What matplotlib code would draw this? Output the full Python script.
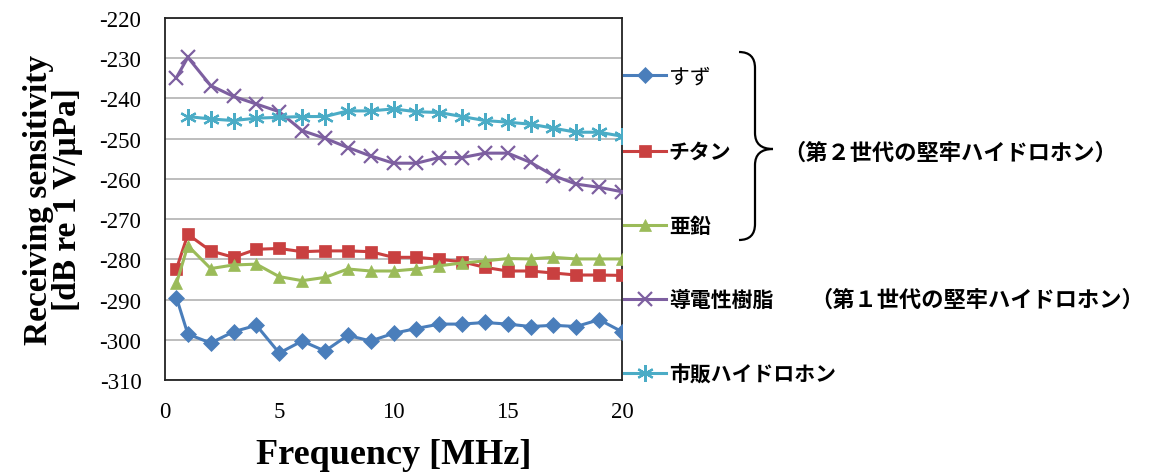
import numpy as np
import matplotlib
matplotlib.use("Agg")
import matplotlib.pyplot as plt
from matplotlib.path import Path
from matplotlib.patches import PathPatch

plt.rcParams["axes.unicode_minus"] = False

# Receiving sensitivity of the rugged hydrophones vs. frequency
freq = [0.5] + list(range(1, 21))
freq_commercial = list(range(1, 21))

tin = [-289.5, -298.6, -300.8, -298.0, -296.4, -303.3, -300.3, -302.8, -298.9, -300.3,
       -298.4, -297.2, -296.1, -296.1, -295.7, -296.1, -296.7, -296.4, -296.7, -295.0, -298.0]
titanium = [-282.4, -273.8, -277.9, -279.5, -277.5, -277.3, -278.1, -277.9, -277.9, -278.1,
            -279.5, -279.5, -280.0, -280.6, -282.0, -282.9, -282.9, -283.4, -283.9, -283.9, -284.0]
zinc = [-286.0, -276.6, -282.3, -281.4, -281.2, -284.3, -285.3, -284.5, -282.4, -282.9,
        -282.9, -282.4, -281.6, -280.9, -280.4, -279.8, -279.9, -279.5, -279.9, -279.9, -279.9]
resin = [-234.8, -229.8, -236.8, -239.5, -241.4, -243.3, -248.0, -249.9, -252.2, -254.3,
         -256.1, -256.1, -254.7, -254.7, -253.6, -253.6, -255.9, -259.2, -261.3, -262.1, -263.2]
commercial = [-244.5, -245.1, -245.5, -244.9, -244.7, -244.5, -244.5, -243.1, -243.1, -242.6,
              -243.3, -243.5, -244.5, -245.5, -245.9, -246.4, -247.4, -248.4, -248.4, -249.4]

labels = ["すず", "チタン", "亜鉛", "導電性樹脂", "市販ハイドロホン"]
gen2_note = "（第２世代の堅牢ハイドロホン）"
gen1_note = "（第１世代の堅牢ハイドロホン）"

W, H = 1157, 477
fig = plt.figure(figsize=(W / 100, H / 100), dpi=100)
ax = fig.add_axes([165 / W, 1 - 381 / H, (622 - 165) / W, (381 - 19) / H])

serif = "Liberation Serif"
jp = ["Noto Sans CJK JP", "DejaVu Sans"]

series = [
    (freq, tin, "#4A7EBB", "D", 8, labels[0]),
    (freq, titanium, "#C94040", "s", 8, labels[1]),
    (freq, zinc, "#9BBB59", "^", 9, labels[2]),
    (freq, resin, "#7D5FA0", "x", 10, labels[3]),
    (freq_commercial, commercial, "#4BACC6", (6, 2, 0), 12, labels[4]),
]
handles = []
for x, y, c, m, ms, lab in series:
    h, = ax.plot(x, y, color=c, marker=m, markersize=ms, linewidth=2.2,
                 markeredgewidth=1.6 if m in ("x", (6, 2, 0)) else 0.5,
                 markeredgecolor=c, label=lab, zorder=3)
    handles.append(h)

ax.set_xlim(0, 20)
ax.set_ylim(-310, -220)
ax.set_xticks([0, 5, 10, 15, 20])
ax.set_yticks(np.arange(-310, -219, 10))
ax.yaxis.grid(True, color="#BDBDBD", linewidth=1.4)
ax.set_axisbelow(True)
for s in ax.spines.values():
    s.set_color("#222222")
    s.set_linewidth(1.3)
ax.tick_params(axis="both", length=0, labelsize=16.5)
ax.tick_params(axis="x", pad=15)
ax.tick_params(axis="y", pad=17)
for t in ax.get_xticklabels() + ax.get_yticklabels():
    t.set_fontfamily(serif)

ax.set_xlabel("Frequency [MHz]", fontfamily=serif, fontweight="bold", fontsize=26, labelpad=12)
ax.set_ylabel("Receiving sensitivity\n[dB re 1 V/μPa]", fontfamily=serif, fontweight="bold",
              fontsize=24, labelpad=12, linespacing=0.92)

leg = fig.legend(handles=handles, loc="center left", bbox_to_anchor=(624 / W, 1 - 226 / H),
                 frameon=False, borderpad=0, borderaxespad=0, handlelength=2.0,
                 handletextpad=0.15, labelspacing=2.55, prop={"family": jp, "size": 15})
for i, t in enumerate(leg.get_texts()):
    if i > 0:
        t.set_fontweight("bold")


def px(x, y):
    return (x / W, 1 - y / H)


# curly brace grouping the second-generation hydrophones
xe, xv, xt = 739, 755, 773
yt, ym, yb = 53, 150, 241
upper = Path([px(xe, yt), px(xv, yt), px(xv, yt + 16), px(xv, ym - 16), px(xv, ym), px(xt, ym)],
             [Path.MOVETO, Path.CURVE3, Path.CURVE3, Path.LINETO, Path.CURVE3, Path.CURVE3])
lower = Path([px(xt, ym), px(xv, ym), px(xv, ym + 16), px(xv, yb - 16), px(xv, yb), px(xe, yb)],
             [Path.MOVETO, Path.CURVE3, Path.CURVE3, Path.LINETO, Path.CURVE3, Path.CURVE3])
for p in (upper, lower):
    fig.add_artist(PathPatch(p, fill=False, lw=1.6, color="black", transform=fig.transFigure))

fig.text(783 / W, 1 - 153 / H, gen2_note, family=jp, fontsize=16, fontweight="bold", va="center")
fig.text(810 / W, 1 - 300 / H, gen1_note, family=jp, fontsize=16, fontweight="bold", va="center")

fig.savefig("out.png", dpi=100)
